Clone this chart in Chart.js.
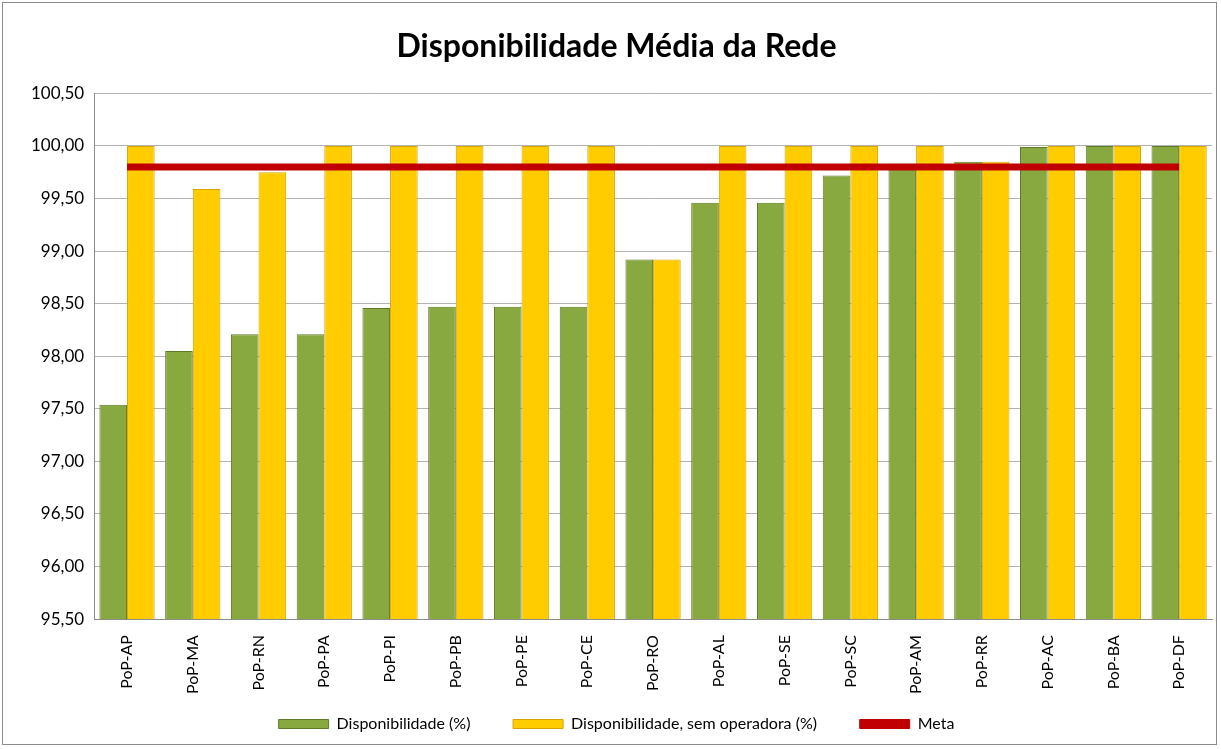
<!DOCTYPE html>
<html>
<head>
<meta charset="utf-8">
<script src="https://cdn.jsdelivr.net/npm/chart.js@4.4.0/dist/chart.umd.min.js"></script>
<style>
  html, body { margin: 0; padding: 0; background: #fff; }
  #wrap { position: absolute; left: 2px; top: 2px; width: 1215px; height: 743px; border: 1px solid #8c8c8c; box-sizing: border-box; }
</style>
</head>
<body>
<div id="wrap"><canvas id="myChart"></canvas></div>
<script>
const categories = ['PoP-AP','PoP-MA','PoP-RN','PoP-PA','PoP-PI','PoP-PB','PoP-PE','PoP-CE','PoP-RO','PoP-AL','PoP-SE','PoP-SC','PoP-AM','PoP-RR','PoP-AC','PoP-BA','PoP-DF'];
const disponibilidade = [97.54, 98.05, 98.21, 98.21, 98.46, 98.47, 98.47, 98.47, 98.92, 99.46, 99.46, 99.72, 99.83, 99.85, 99.99, 100.00, 100.00];
const semOperadora = [100.00, 99.59, 99.75, 100.00, 100.00, 100.00, 100.00, 100.00, 98.92, 100.00, 100.00, 100.00, 100.00, 99.85, 100.00, 100.00, 100.00];
const meta = [99.80, 99.80, 99.80, 99.80, 99.80, 99.80, 99.80, 99.80, 99.80, 99.80, 99.80, 99.80, 99.80, 99.80, 99.80, 99.80, 99.80];

function barGradient(c1, c2, c3) {
    return function (context) {
        const chart = context.chart;
        const el = context.element;
        if (!chart.chartArea || !el || !el.width) return c2;
        const x0 = el.x - el.width / 2;
        const g = chart.ctx.createLinearGradient(x0, 0, x0 + el.width, 0);
        g.addColorStop(0, c1);
        g.addColorStop(0.45, c2);
        g.addColorStop(1, c3);
        return g;
    };
}

const ctx = document.getElementById('myChart');
const chart = new Chart(ctx, {
    data: {
        labels: categories,
        datasets: [
            {
                type: 'bar',
                label: 'Disponibilidade (%)',
                data: disponibilidade,
                backgroundColor: barGradient('#6f8c32', '#88a93f', '#5d7529'),
                borderColor: '#5f7a2a',
                borderWidth: 1,
                order: 2
            },
            {
                type: 'bar',
                label: 'Disponibilidade, sem operadora (%)',
                data: semOperadora,
                backgroundColor: barGradient('#f2bb00', '#ffcc00', '#e0a800'),
                borderColor: '#d9a400',
                borderWidth: 1,
                order: 2
            },
            {
                type: 'line',
                label: 'Meta',
                data: meta,
                borderColor: '#c00000',
                backgroundColor: '#c00000',
                borderWidth: 7,
                pointRadius: 0,
                order: 1
            }
        ]
    },
    options: {
        responsive: true,
        maintainAspectRatio: false,
        animation: false,
        layout: { padding: { left: 18, right: 4, top: 10, bottom: 2 } },
        datasets: {
            bar: { categoryPercentage: 0.84, barPercentage: 1.0 }
        },
        plugins: {
            title: {
                display: true,
                text: 'Disponibilidade Média da Rede',
                color: '#000',
                font: { family: 'Lato', size: 32, weight: 'bold' },
                padding: { top: 14, bottom: 28 }
            },
            legend: {
                position: 'bottom',
                labels: {
                    color: '#000',
                    font: { family: 'Lato', size: 16 },
                    boxWidth: 50,
                    boxHeight: 9,
                    padding: 14,
                    sort: (a, b) => a.datasetIndex - b.datasetIndex,
                    generateLabels: (c) => {
                        const fills = ['#88a93f', '#ffcc00', '#c00000'];
                        const strokes = ['#5f7a2a', '#d9a400', '#c00000'];
                        const gaps = ['       ', '       ', ''];
                        return c.data.datasets.map((ds, i) => ({
                            text: ds.label + gaps[i],
                            fillStyle: fills[i],
                            strokeStyle: strokes[i],
                            lineWidth: 1,
                            datasetIndex: i,
                            fontColor: '#000'
                        }));
                    }
                }
            },
            tooltip: { enabled: false }
        },
        scales: {
            x: {
                grid: { display: false },
                border: { color: '#8c8c8c' },
                ticks: {
                    color: '#000',
                    font: { family: 'Lato', size: 16 },
                    maxRotation: 90,
                    minRotation: 90,
                    padding: 8
                }
            },
            y: {
                min: 95.5,
                max: 100.5,
                ticks: {
                    stepSize: 0.5,
                    color: '#000',
                    font: { family: 'Lato', size: 17 },
                    padding: 10,
                    callback: (v) => v.toFixed(2).replace('.', ',')
                },
                grid: { color: '#b3b3b3', drawTicks: false },
                border: { color: '#8c8c8c' }
            }
        }
    }
});
</script>
</body>
</html>
